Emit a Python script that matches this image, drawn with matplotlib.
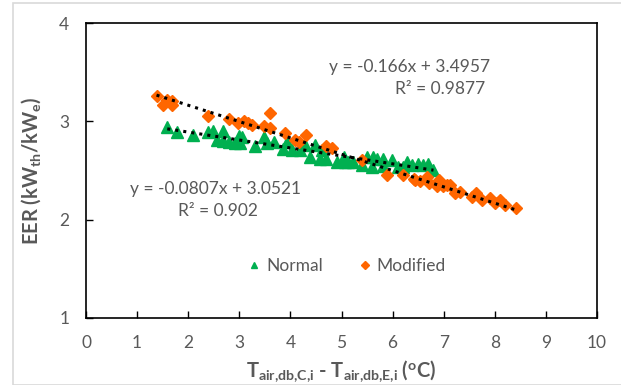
import matplotlib

matplotlib.use("Agg")
import matplotlib.pyplot as plt
from matplotlib.patches import Rectangle

# Colores estilo Excel
_COLOR_NORMAL = "#00b050"
_COLOR_MOD = "#ff6600"
_COLOR_TEXT = "#595959"
_COLOR_BORDER = "#d9d9d9"

# ---- datos ----------------------------------------------------------------
normal_x = [1.59, 1.79, 2.10, 2.39, 2.49, 2.57, 2.69, 2.69, 2.80, 2.92, 3.00, 3.01,
            3.05, 3.31, 3.48, 3.54, 3.67, 3.86, 3.93, 4.03, 4.19, 4.29, 4.38, 4.48,
            4.58, 4.61, 4.70, 4.91, 5.04, 5.07, 5.13, 5.23, 5.40, 5.49, 5.59, 5.61,
            5.70, 5.81, 5.81, 5.98, 6.11, 6.21, 6.28, 6.37, 6.50, 6.60, 6.70, 6.80]
normal_y = [2.94, 2.89, 2.86, 2.89, 2.90, 2.81, 2.90, 2.80, 2.79, 2.78, 2.85, 2.78,
            2.84, 2.75, 2.84, 2.78, 2.79, 2.72, 2.79, 2.71, 2.71, 2.76, 2.64, 2.76,
            2.62, 2.71, 2.62, 2.59, 2.64, 2.59, 2.59, 2.59, 2.56, 2.64, 2.54, 2.64,
            2.62, 2.62, 2.55, 2.61, 2.54, 2.54, 2.59, 2.56, 2.57, 2.56, 2.57, 2.51]

mod_x = [1.38, 1.50, 1.58, 1.68, 1.69, 2.39, 2.79, 2.98, 3.09, 3.18, 3.24, 3.48,
         3.60, 3.60, 3.89, 4.09, 4.17, 4.30, 4.70, 4.81, 5.40, 5.90, 6.20, 6.41,
         6.44, 6.54, 6.67, 6.72, 6.86, 6.91, 6.99, 7.06, 7.12, 7.22, 7.32, 7.55,
         7.64, 7.74, 7.91, 8.00, 8.10, 8.20, 8.41]
mod_y = [3.26, 3.17, 3.22, 3.21, 3.17, 3.05, 3.02, 2.98, 3.00, 2.98, 2.96, 2.95,
         2.93, 3.08, 2.88, 2.81, 2.79, 2.86, 2.75, 2.73, 2.61, 2.45, 2.45, 2.41,
         2.40, 2.39, 2.43, 2.37, 2.34, 2.40, 2.34, 2.35, 2.35, 2.27, 2.28, 2.23,
         2.27, 2.20, 2.22, 2.17, 2.20, 2.15, 2.12]

# líneas de tendencia (coeficientes que muestra el gráfico)
normal_fit = (-0.0807, 3.0521)
mod_fit = (-0.166, 3.4957)
normal_r2 = 0.902
mod_r2 = 0.9877

W, H = 621, 385
FS = 12.5
plt.rcParams["font.family"] = ["Lato", "DejaVu Sans"]
plt.rcParams["mathtext.fontset"] = "custom"
plt.rcParams["mathtext.rm"] = "Lato"
plt.rcParams["mathtext.it"] = "Lato:italic"
plt.rcParams["mathtext.bf"] = "Lato:bold"

fig = plt.figure(figsize=(W / 100, H / 100), dpi=100)
fig.patches.append(Rectangle((13 / W, 0), 1.2, (H - 3) / H, transform=fig.transFigure,
                             fill=False, edgecolor=_COLOR_BORDER, linewidth=1.2))
ax = fig.add_axes([86 / W, 1 - 318 / H, 511 / W, 295 / H])

ax.plot(normal_x, normal_y, linestyle="none", marker="^", markersize=8,
        color=_COLOR_NORMAL, label="Normal", zorder=3)
ax.plot(mod_x, mod_y, linestyle="none", marker="D", markersize=6.5,
        color=_COLOR_MOD, label="Modified", zorder=4)

for xs, (m, b) in ((normal_x, normal_fit), (mod_x, mod_fit)):
    x0, x1 = min(xs), max(xs)
    ax.plot([x0, x1], [m * x0 + b, m * x1 + b], linestyle=":", color="black",
            linewidth=2.2, zorder=5)

ax.text(6.34, 3.55, f"y = {mod_fit[0]}x + {mod_fit[1]}", ha="center", va="center",
        fontsize=FS, color=_COLOR_TEXT)
ax.text(6.93, 3.33, f"R² = {mod_r2}", ha="center", va="center",
        fontsize=FS, color=_COLOR_TEXT)
ax.text(2.54, 2.31, f"y = {normal_fit[0]}x + {normal_fit[1]}", ha="center", va="center",
        fontsize=FS, color=_COLOR_TEXT)
ax.text(2.58, 2.09, f"R² = {normal_r2}", ha="center", va="center",
        fontsize=FS, color=_COLOR_TEXT)

ax.set_xlim(0, 10)
ax.set_ylim(1, 4)
ax.set_xticks(range(0, 11))
ax.set_yticks([1, 2, 3, 4])
ax.tick_params(direction="in", length=5, width=1, colors="black",
               labelcolor=_COLOR_TEXT, labelsize=FS, pad=12)
for spine in ax.spines.values():
    spine.set_linewidth(1.2)

ax.set_xlabel(r"T$_{\mathbf{air{,}db{,}C{,}i}}$ - T$_{\mathbf{air{,}db{,}E{,}i}}$ ($^{\mathbf{o}}$C)",
              fontsize=14.5, fontweight="bold", color=_COLOR_TEXT, labelpad=6)
ax.set_ylabel(r"EER (kW$_{\mathbf{th}}$/kW$_{\mathbf{e}}$)",
              fontsize=14.5, fontweight="bold", color=_COLOR_TEXT, labelpad=12)

ax.legend(loc="center", bbox_to_anchor=(0.51, 0.175), ncol=2, frameon=False,
          fontsize=FS, labelcolor=_COLOR_TEXT, markerscale=0.6,
          handlelength=0.8, handletextpad=0.3, columnspacing=2.0)

fig.savefig("out.png", dpi=100)
